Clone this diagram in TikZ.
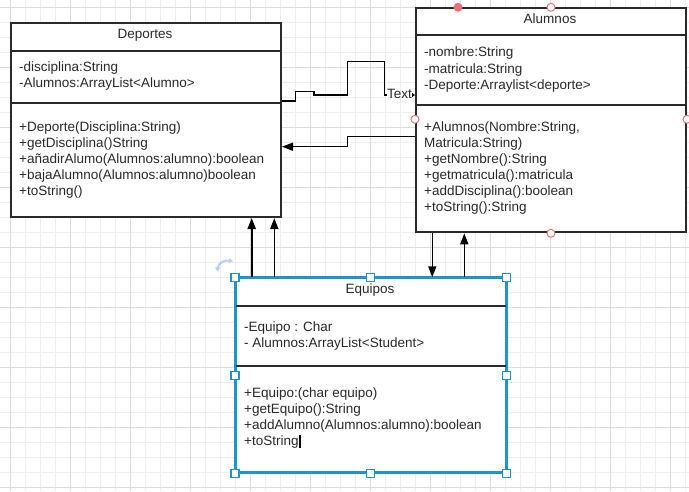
\documentclass[tikz,border=0pt]{standalone}
\usepackage{fontspec}
\setmainfont{Liberation Sans}
\usetikzlibrary{arrows.meta,calc}
\definecolor{ink}{HTML}{2A2A2A}
\definecolor{gmin}{HTML}{EEEEEE}
\definecolor{gmaj}{HTML}{DCDCDC}
\definecolor{selblue}{HTML}{1A94D6}
\definecolor{hred}{HTML}{E5737C}
\definecolor{rotblue}{HTML}{B3D0F2}
\begin{document}
\begin{tikzpicture}[x=1pt,y=-1pt,
  cls/.style={draw=ink, line width=2pt, rectangle, inner sep=0pt, anchor=north west},
  txt/.style={inner sep=0pt, anchor=base west, text=ink, font=\fontsize{13.5}{16}\selectfont},
  ttl/.style={inner sep=0pt, anchor=base, text=ink, font=\fontsize{13.5}{16}\selectfont},
  divline/.style={draw=ink, line width=2pt},
  conn/.style={draw=black, line width=1.5pt},
  thinconn/.style={draw=black, line width=1.2pt},
  tip/.style={-{Triangle[width=8pt,length=11pt]}},
  smalltip/.style={-{Triangle[width=4pt,length=3pt]}},
  hsq/.style={draw=selblue, fill=white, line width=1.2pt, rectangle, minimum size=8pt, inner sep=0pt},
  hcirc/.style={draw=hred, fill=white, line width=1pt, circle, minimum size=8pt, inner sep=0pt},
  hdot/.style={fill=hred, circle, minimum size=9pt, inner sep=0pt}
]
\useasboundingbox (0,0) rectangle (689,491);
\fill[white] (0,0) rectangle (689,491);
% grid
\foreach \x in {10,25,...,685} \draw[gmin, line width=1pt] (\x,0) -- (\x,491);
\foreach \y in {7.3,22.3,...,490} \draw[gmin, line width=1pt] (0,\y) -- (689,\y);
\foreach \x in {10,70,...,670} \draw[gmaj, line width=1pt] (\x,0) -- (\x,491);
\foreach \y in {7.3,67.3,...,490} \draw[gmaj, line width=1pt] (0,\y) -- (689,\y);

% ---------- Deportes ----------
\node[cls, fill=white, minimum width=270pt, minimum height=194pt] (dep) at (10,22) {};
\draw[divline] (dep.west |- 0,50.7) -- (dep.east |- 0,50.7);
\draw[divline] (dep.west |- 0,103.3) -- (dep.east |- 0,103.3);
\node[ttl] (depT) at (145,38.5) {Deportes};
\foreach \t [count=\i] in {-disciplina:String, -Alumnos:ArrayList<Alumno>}
  \node[txt] (depA\i) at (19,71.8+16*\i-16) {\t};
\foreach \t [count=\i] in {+Deporte(Disciplina:String), +getDisciplina()String,
  +añadirAlumo(Alumnos:alumno):boolean, +bajaAlumno(Alumnos:alumno)boolean, +toString()}
  \node[txt] (depM\i) at (19,131.3+16.1*\i-16.1) {\t};

% ---------- Alumnos ----------
\node[cls, fill=white, minimum width=270pt, minimum height=224pt] (alu) at (415,7.3) {};
\draw[divline] (alu.west |- 0,35) -- (alu.east |- 0,35);
\draw[divline] (alu.west |- 0,105.3) -- (alu.east |- 0,105.3);
\node[ttl] (aluT) at (550,23.5) {Alumnos};
\foreach \t [count=\i] in {-nombre:String, -matricula:String, -Deporte:Arraylist<deporte>}
  \node[txt] (aluA\i) at (424,56.8+16.4*\i-16.4) {\t};
\foreach \t [count=\i] in {{+Alumnos(Nombre:String,}, Matricula:String), +getNombre():String,
  +getmatricula():matricula, +addDisciplina():boolean, +toString():String}
  \node[txt] (aluM\i) at (424,131.2+16.1*\i-16.1) {\t};

% ---------- Equipos ----------
\node[cls, fill=white, draw=selblue, minimum width=269.5pt, minimum height=194pt] (eq) at (235,277.3) {};
\draw[divline] (eq.west |- 0,305.7) -- (eq.east |- 0,305.7);
\draw[divline] (eq.west |- 0,365.7) -- (eq.east |- 0,365.7);
\draw[selblue, line width=2pt] (eq.north west) rectangle (eq.south east);
\node[ttl] (eqT) at (370,293.8) {Equipos};
\foreach \t [count=\i] in {-Equipo : Char, - Alumnos:ArrayList<Student>}
  \node[txt] (eqA\i) at (244,331.2+16*\i-16) {\t};
\foreach \t [count=\i] in {+Equipo:(char equipo), +getEquipo():String,
  +addAlumno(Alumnos:alumno):boolean, +toString}
  \node[txt] (eqM\i) at (244,397.8+15.8*\i-15.8) {\t};
\draw[black, line width=1.8pt] ([xshift=1.5pt,yshift=-2.5pt]eqM4.base east) -- ([xshift=1.5pt,yshift=10pt]eqM4.base east);

% ---------- connectors ----------
\coordinate (x1) at (251.7,0);
\coordinate (x2) at (274.3,0);
\coordinate (x3) at (432.3,0);
\coordinate (x4) at (464.3,0);
\draw[conn, line width=2pt, tip] (eq.north -| x1) -- (dep.south -| x1);
\draw[conn, tip] (eq.north -| x2) -- (dep.south -| x2);
\draw[conn, tip] (alu.south -| x3) -- (eq.north -| x3);
\draw[conn, tip] (eq.north -| x4) -- (alu.south -| x4);

\draw[conn, tip] (alu.west |- 0,136.7) -| (347.7,146.7) -- (dep.east |- 0,146.7);

\node[inner sep=0pt, anchor=base west, text=ink, font=\fontsize{13.5}{16}\selectfont] (lbl) at (387,98.6) {Text};
\draw[thinconn] (dep.east |- 0,101) -| (295.7,91.3) -| (314,95) -| (347.7,61.5) -| (384.3,95) -- (lbl.west |- 0,95);
\draw[thinconn, smalltip] (lbl.east |- 0,95) -- (alu.west |- 0,95);

% ---------- selection handles ----------
\foreach \p [count=\i] in {north west, north, north east, west, east, south west, south, south east}
  \node[hsq] (h\i) at (eq.\p) {};
\node[hdot] (r0) at (458,7.3) {};
\node[hcirc] (r1) at (alu.north) {};
\node[hcirc] (r2) at (alu.west |- 0,119.3) {};
\node[hcirc] (r3) at (alu.east |- 0,119.3) {};
\node[hcirc] (r4) at (alu.south) {};
% rotation icon
\draw[rotblue, line width=2pt, {Triangle[width=5pt,length=4pt]}-{Triangle[width=5pt,length=4pt]}]
  (217.5,271.5) .. controls (218,263) and (225,259.5) .. (233,261.5);
\end{tikzpicture}
\end{document}
